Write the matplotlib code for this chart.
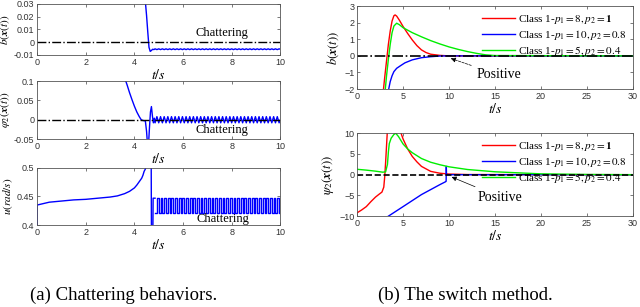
import numpy as np
import matplotlib
matplotlib.use("Agg")
import matplotlib.pyplot as plt

plt.rcParams['mathtext.fontset'] = 'stix'
plt.rcParams['font.family'] = ['Liberation Serif', 'DejaVu Serif']

# ---- (a) chattering behaviors ----
# common sample times of the chattering part
chat_t = [4.85, 4.925, 5.0, 5.075, 5.15, 5.225, 5.3, 5.375, 5.45, 5.525,
          5.6, 5.675, 5.75, 5.825, 5.9, 5.975, 6.05, 6.125, 6.2, 6.275,
          6.35, 6.425, 6.5, 6.575, 6.65, 6.725, 6.8, 6.875, 6.95, 7.025,
          7.1, 7.175, 7.25, 7.325, 7.4, 7.475, 7.55, 7.625, 7.7, 7.775,
          7.85, 7.925, 8.0, 8.075, 8.15, 8.225, 8.3, 8.375, 8.45, 8.525,
          8.6, 8.675, 8.75, 8.825, 8.9, 8.975, 9.05, 9.125, 9.2, 9.275,
          9.35, 9.425, 9.5, 9.575, 9.65, 9.725, 9.8, 9.875, 9.95, 10.0]

b_t = [4.45, 4.50, 4.55, 4.60, 4.65, 4.70, 4.75, 4.80]
b_v = [0.032, 0.021, 0.008, -0.004, -0.0072, -0.0065, -0.0055, -0.0058]
b_chat = [-0.0052, -0.0058, -0.0052, -0.0058, -0.0052, -0.0058, -0.0052, -0.0058, -0.0052, -0.0058,
          -0.0052, -0.0058, -0.0052, -0.0058, -0.0052, -0.0058, -0.0052, -0.0058, -0.0052, -0.0058,
          -0.0052, -0.0058, -0.0052, -0.0058, -0.0052, -0.0058, -0.0052, -0.0058, -0.0052, -0.0058,
          -0.0052, -0.0058, -0.0052, -0.0058, -0.0052, -0.0058, -0.0052, -0.0058, -0.0052, -0.0058,
          -0.0052, -0.0058, -0.0052, -0.0058, -0.0052, -0.0058, -0.0052, -0.0058, -0.0052, -0.0058,
          -0.0052, -0.0058, -0.0052, -0.0058, -0.0052, -0.0058, -0.0052, -0.0058, -0.0052, -0.0058,
          -0.0052, -0.0058, -0.0052, -0.0058, -0.0052, -0.0058, -0.0052, -0.0058, -0.0052, -0.0055]

phi_t = [3.60, 3.70, 3.80, 3.90, 4.00, 4.10, 4.20, 4.28, 4.35, 4.45,
         4.50, 4.54, 4.58, 4.62, 4.66, 4.70, 4.74, 4.78, 4.82]
phi_v = [0.108, 0.09, 0.07, 0.052, 0.035, 0.02, 0.008, 0.0, -0.002, -0.003,
         -0.03, -0.065, -0.065, -0.02, 0.02, 0.034, 0.01, -0.008, 0.004]
phi_chat = [-0.008, 0.008, -0.008, 0.008, -0.008, 0.008, -0.008, 0.008, -0.008, 0.008,
            -0.008, 0.008, -0.008, 0.008, -0.008, 0.008, -0.008, 0.008, -0.008, 0.008,
            -0.008, 0.008, -0.008, 0.008, -0.008, 0.008, -0.008, 0.008, -0.008, 0.008,
            -0.008, 0.008, -0.008, 0.008, -0.008, 0.008, -0.008, 0.008, -0.008, 0.008,
            -0.008, 0.008, -0.008, 0.008, -0.008, 0.008, -0.008, 0.008, -0.008, 0.008,
            -0.008, 0.008, -0.008, 0.008, -0.008, 0.008, -0.008, 0.008, -0.008, 0.008,
            -0.008, 0.008, -0.008, 0.008, -0.008, 0.008, -0.008, 0.008, -0.008, 0.0]

u_t = [0.0, 0.0, 0.2, 0.5, 1.0, 1.5, 2.0, 2.5, 3.0, 3.3, 3.6, 3.8, 4.0, 4.1,
       4.2, 4.3, 4.35, 4.4, 4.45, 4.5, 4.55, 4.69, 4.70, 4.76, 4.77, 4.85]
u_v = [0.4, 0.435, 0.437, 0.44, 0.442, 0.444, 0.445, 0.447, 0.449, 0.451, 0.455,
       0.459, 0.465, 0.47, 0.476, 0.482, 0.487, 0.494, 0.498, 0.505, 0.52,
       0.52, 0.39, 0.39, 0.447, 0.447]
u_chat = [0.421, 0.447, 0.421, 0.447, 0.421, 0.447, 0.421, 0.447, 0.421, 0.447,
          0.421, 0.447, 0.421, 0.447, 0.421, 0.447, 0.421, 0.447, 0.421, 0.447,
          0.421, 0.447, 0.421, 0.447, 0.421, 0.447, 0.421, 0.447, 0.421, 0.447,
          0.421, 0.447, 0.421, 0.447, 0.421, 0.447, 0.421, 0.447, 0.421, 0.447,
          0.421, 0.447, 0.421, 0.447, 0.421, 0.447, 0.421, 0.447, 0.421, 0.447,
          0.421, 0.447, 0.421, 0.447, 0.421, 0.447, 0.421, 0.447, 0.421, 0.447,
          0.421, 0.447, 0.421, 0.447, 0.421, 0.447, 0.421, 0.447, 0.421, 0.421]

# ---- (b) switch method ----
legend_labels = [r'Class 1-$p_1 = 8, p_2 = \mathbf{1}$',
                 r'Class 1-$p_1 = 10, p_2 = 0.8$',
                 r'Class 1-$p_1 = 5, p_2 = 0.4$']

red_b_t = [2.85, 3.0, 3.2, 3.4, 3.6, 3.8, 4.0, 4.13, 4.3, 4.6, 5.0, 5.5, 6.0,
           6.5, 7.0, 7.5, 8.0, 9.0, 10.0, 30.0]
red_b_v = [-2.1, -1.3, -0.3, 0.7, 1.5, 2.1, 2.42, 2.47, 2.4, 2.15, 1.77, 1.35,
           0.96, 0.62, 0.36, 0.2, 0.1, 0.03, 0.0, 0.0]
blue_b_t = [3.4, 3.6, 3.8, 4.0, 4.3, 4.7, 5.2, 6.0, 7.0, 8.0, 9.0, 10.0, 30.0]
blue_b_v = [-2.1, -1.55, -1.2, -0.95, -0.75, -0.6, -0.42, -0.24, -0.11, -0.05,
            -0.01, 0.0, 0.0]
green_b_t = [3.05, 3.2, 3.4, 3.6, 3.8, 4.0, 4.3, 4.6, 5.0, 6.0, 7.0, 8.0, 9.0,
             10.0, 11.0, 12.0, 13.0, 14.0, 15.0, 30.0]
green_b_v = [-2.1, -1.2, -0.2, 0.7, 1.4, 1.8, 1.97, 1.88, 1.7, 1.4, 1.15, 0.92,
             0.72, 0.54, 0.39, 0.26, 0.15, 0.06, 0.02, 0.0]

red_p_t = [0.0, 0.5, 1.0, 1.5, 2.0, 2.4, 2.7, 2.9, 3.0, 3.1, 3.2, 3.3, 3.4,
           4.6, 4.7, 5.0, 5.5, 6.0, 6.5, 7.0, 8.0, 9.0, 10.0, 12.0, 30.0]
red_p_v = [-9.2, -8.5, -7.7, -6.5, -5.4, -4.7, -4.2, -3.0, -0.5, 3.0, 7.0,
           11.0, 13.0, 13.0, 10.5, 8.6, 6.2, 4.4, 3.1, 2.0, 0.8, 0.35, 0.15,
           0.03, 0.0]
blue_p_t = [3.2, 5.0, 7.0, 9.0, 9.62, 9.68, 9.70, 9.72, 30.0]
blue_p_v = [-10.3, -7.7, -4.8, -2.4, -1.7, -1.6, 2.0, 0.0, 0.0]
green_p_t = [0.0, 1.0, 2.0, 2.8, 3.1, 3.3, 3.4, 3.5, 3.7, 4.0, 4.2, 4.5, 5.0,
             5.5, 6.0, 7.0, 8.0, 9.0, 10.0, 12.0, 15.0, 20.0, 25.0, 30.0]
green_p_v = [1.3, 1.1, 0.85, 0.6, 0.7, 2.5, 5.5, 7.5, 8.8, 9.7, 10.0, 9.2,
             7.4, 6.2, 5.3, 3.9, 3.0, 2.4, 1.9, 1.25, 0.7, 0.2, 0.05, 0.0]

tick_font = dict(family='Liberation Sans', size=6.5)


def style(ax, xticks, yticks, xlim, ylim):
    ax.set_xlim(xlim)
    ax.set_ylim(ylim)
    ax.set_xticks(xticks)
    ax.set_yticks(yticks)
    ax.tick_params(direction='in', top=True, right=True, length=2.5,
                   width=0.5, colors='#444', pad=2)
    for lab in ax.get_xticklabels() + ax.get_yticklabels():
        lab.set_fontfamily('Liberation Sans')
        lab.set_fontsize(6.5)
        lab.set_color('#333')
    for s in ax.spines.values():
        s.set_linewidth(0.6)
        s.set_color('#555')


fig = plt.figure(figsize=(6.4, 3.07), dpi=100)

# left column
ax1 = fig.add_axes([0.058, 0.821, 0.380, 0.166])
ax1.plot(b_t + chat_t, b_v + b_chat, color='blue', lw=1.0)
ax1.axhline(0, color='black', ls='-.', lw=1.0)
ax1.text(7.6, 0.0075, 'Chattering', ha='center', va='center', fontsize=9)
style(ax1, [0, 2, 4, 6, 8, 10], [-0.01, 0, 0.01, 0.02, 0.03], (0, 10), (-0.01, 0.03))
ax1.set_yticklabels(['-0.01', '0', '0.01', '0.02', '0.03'], **tick_font)
ax1.set_xlabel(r'$t/s$', fontsize=10, labelpad=1)
ax1.set_ylabel(r'$b(\boldsymbol{x}(t))$', fontsize=8, labelpad=1)

ax2 = fig.add_axes([0.058, 0.547, 0.380, 0.189])
ax2.plot(phi_t + chat_t, phi_v + phi_chat, color='blue', lw=1.0)
ax2.axhline(0, color='black', ls='-.', lw=1.0)
ax2.text(7.6, -0.026, 'Chattering', ha='center', va='center', fontsize=9)
style(ax2, [0, 2, 4, 6, 8, 10], [-0.05, 0, 0.05, 0.1], (0, 10), (-0.05, 0.1))
ax2.set_yticklabels(['-0.05', '0', '0.05', '0.1'], **tick_font)
ax2.set_xlabel(r'$t/s$', fontsize=10, labelpad=1)
ax2.set_ylabel(r'$\varphi_2(\boldsymbol{x}(t))$', fontsize=8, labelpad=1)

ax3 = fig.add_axes([0.058, 0.267, 0.380, 0.186])
ax3.plot(u_t, u_v, color='blue', lw=1.0)
ax3.plot(chat_t, u_chat, color='blue', lw=1.0, drawstyle='steps-post')
ax3.text(7.65, 0.411, 'Chattering', ha='center', va='center', fontsize=9)
style(ax3, [0, 2, 4, 6, 8, 10], [0.4, 0.45, 0.5], (0, 10), (0.4, 0.5))
ax3.set_yticklabels(['0.4', '0.45', '0.5'], **tick_font)
ax3.set_xlabel(r'$t/s$', fontsize=10, labelpad=1)
ax3.set_ylabel(r'$u(rad/s)$', fontsize=8, labelpad=1)

# right column
ax4 = fig.add_axes([0.558, 0.710, 0.431, 0.270])
ax4.plot(red_b_t, red_b_v, color='red', lw=1.0, label=legend_labels[0])
ax4.plot(blue_b_t, blue_b_v, color='blue', lw=1.0, label=legend_labels[1])
ax4.plot(green_b_t, green_b_v, color='#00ee00', lw=1.0, label=legend_labels[2])
ax4.axhline(0, color='black', ls='-.', lw=1.2)
ax4.annotate('Positive', xy=(9.9, -0.1), xytext=(13.0, -1.15), fontsize=10,
             va='center', ha='left',
             arrowprops=dict(arrowstyle='-|>', color='black', lw=0.5,
                             ls='--', mutation_scale=7))
style(ax4, [0, 5, 10, 15, 20, 25, 30], [-2, -1, 0, 1, 2, 3], (0, 30), (-2, 3))
ax4.set_xlabel(r'$t/s$', fontsize=10, labelpad=1)
ax4.set_ylabel(r'$b(\boldsymbol{x}(t))$', fontsize=9, labelpad=2)
ax4.legend(loc='upper right', frameon=False, fontsize=8, handlelength=3.0,
           handletextpad=0.2, labelspacing=0.2, borderaxespad=0.2)

ax5 = fig.add_axes([0.558, 0.296, 0.431, 0.270])
ax5.plot(red_p_t, red_p_v, color='red', lw=1.0, label=legend_labels[0])
ax5.plot(blue_p_t, blue_p_v, color='blue', lw=1.0, label=legend_labels[1])
ax5.plot(green_p_t, green_p_v, color='#00ee00', lw=1.0, label=legend_labels[2])
ax5.axhline(0, color='black', ls='--', lw=1.2)
ax5.annotate('Positive', xy=(10.0, -0.3), xytext=(13.1, -5.4), fontsize=10,
             va='center', ha='left',
             arrowprops=dict(arrowstyle='-|>', color='black', lw=0.5,
                             mutation_scale=7))
style(ax5, [0, 5, 10, 15, 20, 25, 30], [-10, -5, 0, 5, 10], (0, 30), (-10, 10))
ax5.set_xlabel(r'$t/s$', fontsize=10, labelpad=1)
ax5.set_ylabel(r'$\psi_2(\boldsymbol{x}(t))$', fontsize=9, labelpad=2)
ax5.legend(loc='upper right', frameon=False, fontsize=8, handlelength=3.0,
           handletextpad=0.2, labelspacing=0.2, borderaxespad=0.2)

fig.text(0.047, 0.038, '(a) Chattering behaviors.', ha='left', va='center', fontsize=13.5)
fig.text(0.59, 0.038, '(b) The switch method.', ha='left', va='center', fontsize=13.5)

fig.savefig('out.png', dpi=100)
